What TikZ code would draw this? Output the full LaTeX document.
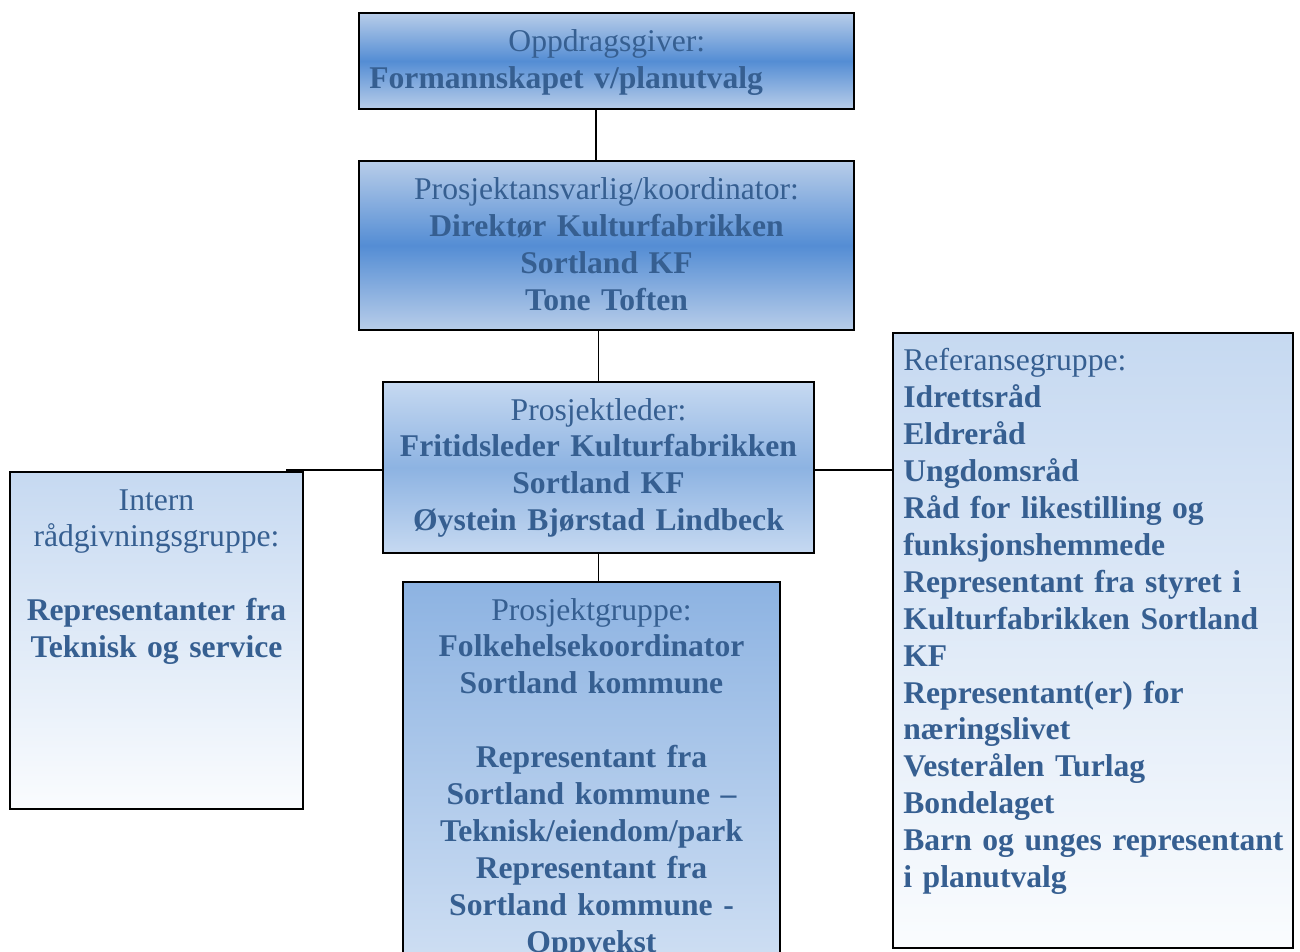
\documentclass[tikz,border=0pt]{standalone}
\usepackage{fontspec}
\setmainfont{Liberation Serif}
\usepackage{tikz}
\usetikzlibrary{positioning}

\definecolor{txtblue}{RGB}{54,95,145}
\definecolor{paleblue}{RGB}{198,217,241}
\definecolor{softblue}{RGB}{141,179,226}
\definecolor{deepblue}{RGB}{84,141,212}
\definecolor{topblue}{RGB}{184,205,233}
\definecolor{nearwhite}{RGB}{250,252,254}

\tikzset{
  box/.style={draw=black, line width=1.4pt, rectangle, anchor=north west, inner sep=0pt, outer sep=0pt},
  strongbox/.style={box, top color=topblue, bottom color=topblue, middle color=deepblue},
  leaderbox/.style={box, top color=paleblue, bottom color=paleblue, middle color=softblue},
  fadebox/.style={box, top color=paleblue, bottom color=nearwhite},
  groupbox/.style={box, top color=softblue, bottom color=paleblue!80!white},
  txt/.style={text=txtblue, inner sep=0pt, font=\fontsize{18}{21}\selectfont},
  link/.style={draw=black, line width=0.8pt}
}

\begin{document}
\begin{tikzpicture}[x=0.02cm, y=-0.02cm]

\useasboundingbox (0,0) rectangle (1300,952);
\clip (0,0) rectangle (1300,952);

% draw boxes
\node [strongbox, minimum width=9.9cm, minimum height=1.92cm] (giver) at (359,13) {};
\node [strongbox, minimum width=9.9cm, minimum height=3.38cm] (ansvar) at (359,161) {};
\node [leaderbox, minimum width=8.62cm, minimum height=3.42cm] (leder) at (383,382) {};
\node [fadebox, minimum width=5.86cm, minimum height=6.74cm] (intern) at (10,472) {};
\node [groupbox, minimum width=7.54cm, minimum height=8cm] (gruppe) at (403,582) {};
\node [fadebox, minimum width=8cm, minimum height=12.3cm] (referanse) at (893,333) {};

% texts
\node [txt, anchor=base west, text width=9.5cm, align=left] (giver text) at (369,52)
  {\makebox[\linewidth]{Oppdragsgiver:}\\ \textbf{Formannskapet v/planutvalg}};
\node [txt, anchor=base, text width=9.9cm, align=center] (ansvar text) at (606.5,200)
  {Prosjektansvarlig/koordinator:\\ \textbf{Direktør Kulturfabrikken\\ Sortland KF\\ Tone Toften}};
\node [txt, anchor=base, text width=8.62cm, align=center] (leder text) at (598.5,420)
  {Prosjektleder:\\ \textbf{Fritidsleder Kulturfabrikken\\ Sortland KF\\ Øystein Bjørstad Lindbeck}};
\node [txt, anchor=base, text width=5.86cm, align=center] (intern text) at (156.5,510)
  {Intern\\ rådgivningsgruppe:\\[21pt] \textbf{Representanter fra\\ Teknisk og service}};
\node [txt, anchor=base, text width=7.54cm, align=center] (gruppe text) at (591.5,620)
  {Prosjektgruppe:\\ \textbf{Folkehelsekoordinator\\ Sortland kommune\\[21pt]
   Representant fra\\ Sortland kommune –\\ Teknisk/eiendom/park\\
   Representant fra\\ Sortland kommune -\\ Oppvekst}};
\node [txt, anchor=base west, text width=7.8cm, align=left] (referanse text) at (903,371)
  {Referansegruppe:\\ \textbf{Idrettsråd\\ Eldreråd\\ Ungdomsråd\\ Råd for likestilling og\\
   funksjonshemmede\\ Representant fra styret i\\ Kulturfabrikken Sortland\\ KF\\
   Representant(er) for\\ næringslivet\\ Vesterålen Turlag\\ Bondelaget\\
   Barn og unges representant\\ i planutvalg}};

% connecting lines
\coordinate (intern hook) at (286,470);
\draw [link] ([xshift=-6pt]giver.south) -- ([xshift=-6pt]ansvar.north);
\draw [link] (ansvar.south -| leder.north) -- (leder.north);
\draw [link] (leder.south) -- (leder.south |- gruppe.north);
\draw [link] (intern hook -| leder.west) -- (intern hook);
\draw [link] (intern hook -| leder.east) -- (intern hook -| referanse.west);

\end{tikzpicture}
\end{document}
